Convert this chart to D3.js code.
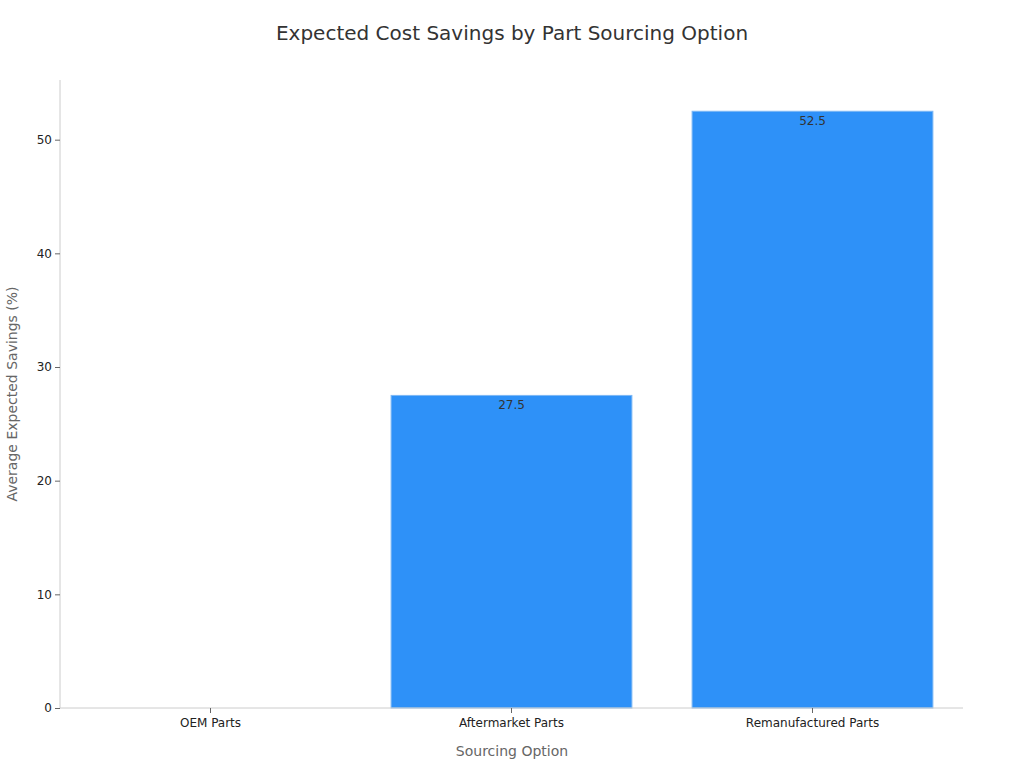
<!DOCTYPE html>
<html><head><meta charset="utf-8">
<script src="https://cdn.jsdelivr.net/npm/d3@7"></script>
<style>body{margin:0;background:#fff;font-family:"DejaVu Sans",sans-serif;}</style>
</head><body>
<svg id="c" width="1024" height="768"></svg>
<script>
const categories = ["OEM Parts", "Aftermarket Parts", "Remanufactured Parts"];
const values = [0, 27.5, 52.5];
const yTicks = [0, 10, 20, 30, 40, 50];
const title = "Expected Cost Savings by Part Sourcing Option";
const xTitle = "Sourcing Option";
const yTitle = "Average Expected Savings (%)";

const svg = d3.select("#c");
const m = {l: 60, r: 61, t: 80, b: 60};
const W = 1024, H = 768;
const x = d3.scaleBand().domain(categories).range([m.l, W - m.r]).paddingInner(0.2).paddingOuter(0.1);
const y = d3.scaleLinear().domain([0, 55.25]).range([H - m.b, m.t]);

svg.append("text").attr("x", 512).attr("y", 40).attr("text-anchor", "middle")
  .attr("font-size", 20).attr("fill", "#333").text(title);

const bars = categories.map((c, i) => ({c, v: values[i]}));
svg.selectAll("rect.bar").data(bars.filter(d => d.v > 0)).join("rect")
  .attr("x", d => x(d.c)).attr("width", x.bandwidth())
  .attr("y", d => y(d.v)).attr("height", d => y(0) - y(d.v))
  .attr("fill", "#2E91F8").attr("stroke", "#7DB8F5").attr("stroke-width", 1);

svg.selectAll("text.lbl").data(bars.filter(d => d.v > 0)).join("text")
  .attr("x", d => x(d.c) + x.bandwidth() / 2).attr("y", d => y(d.v) + 14)
  .attr("text-anchor", "middle").attr("font-size", 12).attr("fill", "#333")
  .text(d => d.v.toFixed(1));

const ya = svg.append("g").attr("transform", `translate(${m.l},0)`)
  .call(d3.axisLeft(y).tickValues(yTicks).tickSize(5).tickPadding(3));
ya.select(".domain").attr("stroke", "#ccc").attr("d", `M0,${m.t}V${H - m.b}`);
ya.selectAll(".tick line").attr("stroke", "#666");
ya.selectAll(".tick text").attr("font-size", 12).attr("fill", "#222").attr("font-family", "DejaVu Sans");

const xa = svg.append("g").attr("transform", `translate(0,${H - m.b})`)
  .call(d3.axisBottom(x).tickSize(5).tickPadding(5));
xa.select(".domain").attr("stroke", "#ccc").attr("d", `M${m.l},0H${W - m.r}`);
xa.selectAll(".tick line").attr("stroke", "#666");
xa.selectAll(".tick text").attr("font-size", 12).attr("fill", "#222").attr("font-family", "DejaVu Sans");

svg.append("text").attr("x", 512).attr("y", 756).attr("text-anchor", "middle")
  .attr("font-size", 14).attr("fill", "#666").text(xTitle);
svg.append("text").attr("transform", `translate(17,${(m.t + H - m.b) / 2}) rotate(-90)`)
  .attr("text-anchor", "middle").attr("font-size", 14).attr("fill", "#666").text(yTitle);
</script>
</body></html>
